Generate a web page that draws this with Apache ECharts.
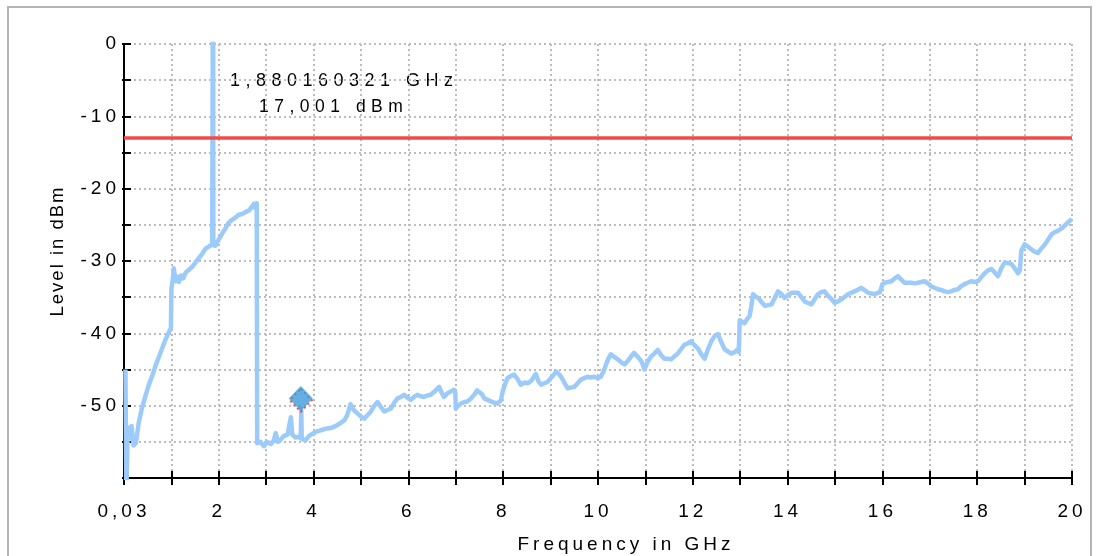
<!DOCTYPE html>
<html>
<head>
<meta charset="utf-8">
<script src="https://cdn.jsdelivr.net/npm/echarts@6/dist/echarts.min.js"></script>
<style>
html,body{margin:0;padding:0;background:#fff;}
#chart{width:1100px;height:556px;}
</style>
</head>
<body>
<div id="chart"></div>
<script>
// ---- letter spacing for the wide-spaced instrument font look ----
(function(){
  var proto = CanvasRenderingContext2D.prototype;
  var d = Object.getOwnPropertyDescriptor(proto, 'font');
  if (!d || !('letterSpacing' in proto)) return;
  Object.defineProperty(proto, 'font', {
    configurable: true,
    get: function(){ return d.get.call(this); },
    set: function(v){
      d.set.call(this, v);
      var s = '0px';
      if (/Arimo/.test(v)) s = '2px';
      else if (/Tinos/.test(v)) s = '5.5px';
      else if (/Liberation Sans/.test(v)) s = '4px';
      this.letterSpacing = s;
    }
  });
})();

// ---- data ----
var xTickLabels = {0: '0,03', 2: '2', 4: '4', 6: '6', 8: '8', 10: '10', 12: '12', 14: '14', 16: '16', 18: '18', 20: '20'};
var yTickLabels = [0, -10, -20, -30, -40, -50];
var limitLevel = -13;
var markerFreq = [3.73];
var markerLevel = [-49.0];
var peakText = ['1,880160321 GHz', '17,001 dBm'];

var freqs = [
 0.03,0.05,0.08,0.12,0.16,0.2,0.25,0.31,0.38,0.46,0.52,0.6,0.67,0.74,0.81,0.88,0.95,0.99,
 1.0,1.03,1.05,1.09,1.13,1.16,1.2,1.25,1.3,1.37,1.44,1.51,1.58,1.65,1.72,1.79,1.86,1.875,1.88,1.885,
 1.93,2.0,2.07,2.14,2.21,2.28,2.35,2.42,2.5,2.57,2.64,2.7,2.74,2.78,2.8,2.81,
 2.84,2.88,2.95,3.02,3.1,3.16,3.2,3.25,3.32,3.37,3.45,3.52,3.55,3.62,3.68,3.73,3.74,3.75,3.83,3.9,3.97,
 4.06,4.15,4.25,4.36,4.47,4.57,4.65,4.71,4.78,4.85,4.93,5.0,5.07,5.14,5.21,5.28,5.35,5.42,5.49,5.56,5.63,5.7,5.77,5.84,5.91,5.98,
 6.05,6.12,6.19,6.26,6.33,6.4,6.47,6.56,6.65,6.7,6.75,6.82,6.9,6.96,6.99,
 7.0,7.05,7.11,7.18,7.25,7.32,7.39,7.45,7.49,7.55,7.6,7.67,7.74,7.81,7.88,7.95,7.99,
 8.04,8.09,8.16,8.23,8.3,8.37,8.45,8.52,8.6,8.69,8.74,8.8,8.87,8.94,9.03,9.12,9.17,9.22,9.29,9.36,9.43,9.5,9.57,9.64,9.71,9.78,9.85,9.92,9.99,
 10.06,10.12,10.17,10.22,10.27,10.35,10.42,10.49,10.56,10.63,10.7,10.76,10.8,10.86,10.92,10.98,11.05,11.12,11.19,11.26,11.33,11.4,11.47,11.54,11.61,11.68,11.75,11.82,11.89,11.96,
 12.03,12.11,12.18,12.25,12.32,12.39,12.46,12.53,12.6,12.67,12.74,12.81,12.88,12.95,12.97,12.99,
 13.04,13.09,13.15,13.2,13.24,13.27,13.32,13.38,13.45,13.52,13.59,13.66,13.73,13.8,13.87,13.94,
 14.01,14.08,14.15,14.22,14.29,14.36,14.43,14.5,14.57,14.64,14.71,14.78,14.85,14.92,14.99,
 15.06,15.13,15.2,15.27,15.34,15.41,15.48,15.55,15.62,15.7,15.77,15.84,15.9,15.95,
 16.0,16.05,16.12,16.19,16.26,16.33,16.4,16.47,16.54,16.61,16.68,16.75,16.82,16.89,16.96,
 17.03,17.1,17.17,17.24,17.31,17.38,17.45,17.52,17.59,17.66,17.73,17.8,17.87,17.94,
 18.02,18.09,18.16,18.23,18.3,18.37,18.44,18.51,18.58,18.65,18.72,18.79,18.86,18.9,18.93,
 19.0,19.07,19.14,19.21,19.28,19.35,19.43,19.5,19.57,19.64,19.71,19.78,19.85,19.92,20.0
];
var levels = [
 -45,-62,-53,-54.5,-52.8,-55.5,-55.2,-52.4,-50.3,-48.5,-47.2,-45.8,-44.4,-43.2,-42,-40.8,-39.8,-39.3,
 -33.8,-32.5,-31.0,-32.8,-32.2,-32.9,-32.0,-32.4,-31.6,-31.2,-30.8,-30.2,-29.6,-29.0,-28.3,-28.0,-27.7,-27.5,17.0,-27.8,
 -27.9,-27.0,-26.2,-25.5,-24.7,-24.3,-24.0,-23.6,-23.5,-23.2,-23.0,-22.5,-22.1,-22.8,-22.0,-55.2,
 -55.4,-55.0,-55.6,-55.0,-55.3,-54.8,-53.8,-55.0,-54.6,-54.2,-54.0,-51.6,-54.0,-54.4,-54.3,-54.5,-50.5,-54.6,-54.8,-54.2,-53.9,
 -53.6,-53.4,-53.2,-53.1,-52.8,-52.4,-52.0,-51.3,-49.8,-50.6,-51.1,-51.5,-51.8,-51.3,-50.8,-50.0,-49.5,-50.2,-50.8,-50.6,-50.4,-49.6,-49.0,-48.8,-48.5,-48.9,
 -49.2,-48.8,-48.5,-48.7,-48.8,-48.6,-48.5,-48.0,-47.4,-48.2,-48.8,-48.3,-48.0,-47.8,-48.2,
 -50.4,-50.0,-49.7,-49.5,-49.4,-49.0,-48.5,-47.9,-47.8,-48.4,-49.0,-49.2,-49.4,-49.6,-49.7,-49.3,-48.0,
 -47.0,-46.2,-45.9,-45.7,-46.3,-47.1,-46.8,-46.9,-46.5,-45.6,-46.6,-47.1,-46.9,-46.7,-46.0,-45.3,-45.6,-46.0,-46.8,-47.6,-47.5,-47.4,-46.9,-46.4,-46.2,-46.0,-46.1,-46.0,-46.2,
 -46.0,-45.2,-44.3,-43.5,-42.9,-43.3,-43.6,-44.0,-44.3,-43.8,-43.2,-42.7,-42.5,-43.4,-43.9,-45.0,-43.9,-43.2,-42.8,-42.3,-43.0,-43.5,-43.5,-43.6,-43.2,-42.8,-42.2,-41.6,-41.4,-41.1,
 -41.6,-42.1,-42.9,-43.5,-42.2,-41.1,-40.4,-40.1,-41.2,-42.2,-42.5,-42.8,-42.6,-42.2,-42.6,-38.2,
 -38.4,-38.6,-38.0,-37.6,-36.0,-34.6,-34.9,-35.1,-35.7,-36.2,-36.1,-36.0,-35.1,-34.2,-34.6,-35.1,
 -34.7,-34.4,-34.4,-34.4,-35.0,-35.6,-35.8,-36.0,-35.3,-34.6,-34.3,-34.2,-34.8,-35.2,-35.8,
 -35.6,-35.3,-35.0,-34.6,-34.4,-34.2,-34.0,-33.7,-34.0,-34.4,-34.5,-34.6,-34.4,-34.3,
 -33.2,-33.0,-32.9,-32.8,-32.4,-32.1,-32.6,-33.0,-33.0,-33.0,-33.1,-33.0,-32.9,-32.8,-33.1,
 -33.5,-33.7,-33.9,-34.0,-34.2,-34.3,-34.2,-34.0,-33.9,-33.5,-33.2,-33.0,-32.8,-32.9,
 -32.8,-32.2,-31.7,-31.3,-31.1,-31.6,-32.1,-31.0,-30.2,-30.3,-30.4,-31.0,-31.7,-31.3,-28.6,
 -27.7,-28.0,-28.4,-28.7,-28.9,-28.3,-27.7,-27.0,-26.3,-26.0,-25.8,-25.5,-25.1,-24.6,-24.2
];

var trace = freqs.map(function(f, i){ return [f, levels[i]]; });
var markerData = markerFreq.map(function(f, i){ return [f, markerLevel[i]]; });
var markerShadow = markerFreq.map(function(f, i){ return [f, markerLevel[i] - 0.25]; });

var FONT = 'Liberation Sans';
var GRID = {left: 124, right: 28, top: 44, bottom: 78};
var tickStyle = {color: '#000', width: 2};
var dotted = {color: '#bdbdbd', width: 2, type: [2, 3]};

var chart = echarts.init(document.getElementById('chart'), null, {renderer: 'canvas'});
chart.setOption({
  animation: false,
  backgroundColor: '#fff',
  grid: [
    Object.assign({}, GRID),
    Object.assign({}, GRID)
  ],
  xAxis: [
    {
      type: 'value', gridIndex: 0, min: 0, max: 20, interval: 1,
      axisLine: {show: true, onZero: false, lineStyle: tickStyle},
      axisTick: {show: true, inside: true, length: 7, lineStyle: tickStyle},
      axisLabel: {
        show: true, margin: 22, color: '#000', fontFamily: FONT, fontSize: 19,
        hideOverlap: false, showMinLabel: true, showMaxLabel: true,
        formatter: function(v){ return xTickLabels[v] !== undefined ? xTickLabels[v] : ''; }
      },
      splitLine: {show: true, lineStyle: dotted}
    },
    {
      type: 'value', gridIndex: 1, min: 0, max: 20, interval: 1,
      axisLine: {show: false, onZero: false},
      axisTick: {show: true, inside: false, length: 7, lineStyle: tickStyle},
      axisLabel: {show: false},
      splitLine: {show: false}
    }
  ],
  yAxis: [
    {
      type: 'value', gridIndex: 0, min: -60, max: 0, interval: 5,
      axisLine: {show: true, onZero: false, lineStyle: tickStyle},
      axisTick: {show: true, inside: true, length: 7, lineStyle: tickStyle},
      axisLabel: {
        show: true, margin: 4, color: '#000', fontFamily: FONT, fontSize: 19,
        formatter: function(v){ return yTickLabels.indexOf(v) >= 0 ? String(v) : ''; }
      },
      splitLine: {show: true, lineStyle: dotted}
    },
    {
      type: 'value', gridIndex: 1, min: -60, max: 0, interval: 5,
      axisLine: {show: false, onZero: false},
      axisTick: {show: true, inside: false, length: 2, lineStyle: tickStyle},
      axisLabel: {show: false},
      splitLine: {show: false}
    }
  ],
  graphic: [
    {type: 'rect', z: -10, silent: true, shape: {x: 8, y: 7, width: 1083, height: 570},
     style: {fill: 'none', stroke: '#b5b5b5', lineWidth: 2}},
    {type: 'text', silent: true, x: 58, y: 251, rotation: Math.PI / 2,
     style: {text: 'Level in dBm', fill: '#000', font: 'normal 18.5px Liberation Sans, Arimo', align: 'center', verticalAlign: 'middle'}},
    {type: 'text', silent: true, x: 626, y: 545,
     style: {text: 'Frequency in GHz', fill: '#000', fontFamily: FONT, fontSize: 19, align: 'center', verticalAlign: 'middle'}},
    {type: 'text', silent: true, x: 230, y: 81,
     style: {text: peakText[0], fill: '#000', font: 'normal 18px Liberation Sans, Tinos', align: 'left', verticalAlign: 'middle'}},
    {type: 'text', silent: true, x: 259, y: 107,
     style: {text: peakText[1], fill: '#000', font: 'normal 17.5px Liberation Sans, Tinos', align: 'left', verticalAlign: 'middle'}}
  ],
  series: [
    {
      type: 'line', xAxisIndex: 0, yAxisIndex: 0, data: trace,
      showSymbol: false, symbol: 'none', clip: true, z: 3,
      lineStyle: {color: '#9ccbfa', width: 4.5, join: 'round'},
      markLine: {
        silent: true, symbol: ['none', 'none'], label: {show: false},
        lineStyle: {color: '#f04b4b', width: 3.5, type: 'solid'},
        data: [{yAxis: limitLevel}]
      }
    },
    {
      type: 'scatter', xAxisIndex: 0, yAxisIndex: 0, data: markerShadow,
      symbol: 'diamond', symbolSize: [22, 23], z: 4,
      itemStyle: {color: 'none', borderColor: '#ff1e1e', borderWidth: 2, borderType: [2, 3]}
    },
    {
      type: 'scatter', xAxisIndex: 0, yAxisIndex: 0, data: markerData,
      symbol: 'diamond', symbolSize: [24, 25], z: 5,
      itemStyle: {color: '#3d9ad9'}
    }
  ]
});
</script>
</body>
</html>
